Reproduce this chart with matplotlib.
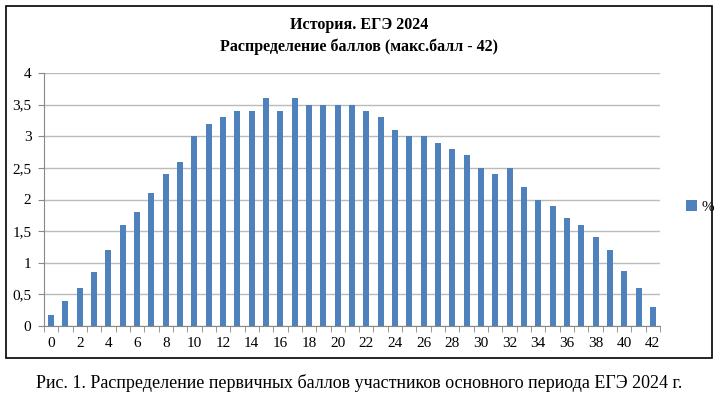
import matplotlib.pyplot as plt
from matplotlib.patches import Rectangle
from matplotlib.ticker import FuncFormatter

plt.rcParams['font.family'] = ['Liberation Serif', 'DejaVu Serif']

scores = list(range(0, 43))
percent = [0.17, 0.4, 0.6, 0.85, 1.2, 1.6, 1.8, 2.1, 2.4, 2.6,
           3.0, 3.2, 3.3, 3.4, 3.4, 3.6, 3.4, 3.6, 3.5, 3.5,
           3.5, 3.5, 3.4, 3.3, 3.1, 3.0, 3.0, 2.9, 2.8, 2.7,
           2.5, 2.4, 2.5, 2.2, 2.0, 1.9, 1.7, 1.6, 1.4, 1.2,
           0.87, 0.6, 0.3]

title = "История. ЕГЭ 2024\nРаспределение баллов (макс.балл - 42)"
caption = "Рис. 1. Распределение первичных баллов участников основного периода ЕГЭ 2024 г."

fig = plt.figure(figsize=(7.18, 3.97), dpi=100)
ax = fig.add_axes([44 / 718, 1 - 326 / 397, 616 / 718, 253 / 397])

ax.bar(scores, percent, width=0.42, color="#4F81BD", label="%", zorder=3)

ax.set_xlim(-0.5, 42.5)
ax.set_ylim(0, 4)
ax.set_yticks([i * 0.5 for i in range(9)])
ax.yaxis.set_major_formatter(FuncFormatter(lambda v, p: ("%g" % v).replace(".", ",")))
ax.set_xticks(scores[::2])
ax.set_xticks([s - 0.5 for s in scores] + [42.5], minor=True)
ax.tick_params(axis="x", which="major", length=0, pad=8, labelsize=11)
ax.tick_params(axis="x", which="minor", length=4, color="#888888")
ax.tick_params(axis="y", length=4, color="#888888", labelsize=11, pad=5)

ax.grid(axis="y", color="#BBBBBB", linewidth=1, zorder=0)
for side in ["top", "right"]:
    ax.spines[side].set_visible(False)
ax.spines["left"].set_color("#888888")
ax.spines["bottom"].set_color("#888888")

fig.text(0.5, 1 - 36 / 397, title, ha="center", va="center", fontsize=11.5,
         fontweight="bold", linespacing=1.45)

ax.legend(loc="center left", bbox_to_anchor=(1.02, 0.47), frameon=False,
          handlelength=0.7, handleheight=0.7, handletextpad=0.3, fontsize=11)

fig.patches.append(Rectangle((6 / 718, 1 - 358 / 397), 706 / 718, 352 / 397,
                             transform=fig.transFigure, fill=False,
                             edgecolor="black", linewidth=1.2))

fig.text(0.5, 1 - 383 / 397, caption, ha="center", va="center", fontsize=13)

fig.savefig("out.png", dpi=100)
